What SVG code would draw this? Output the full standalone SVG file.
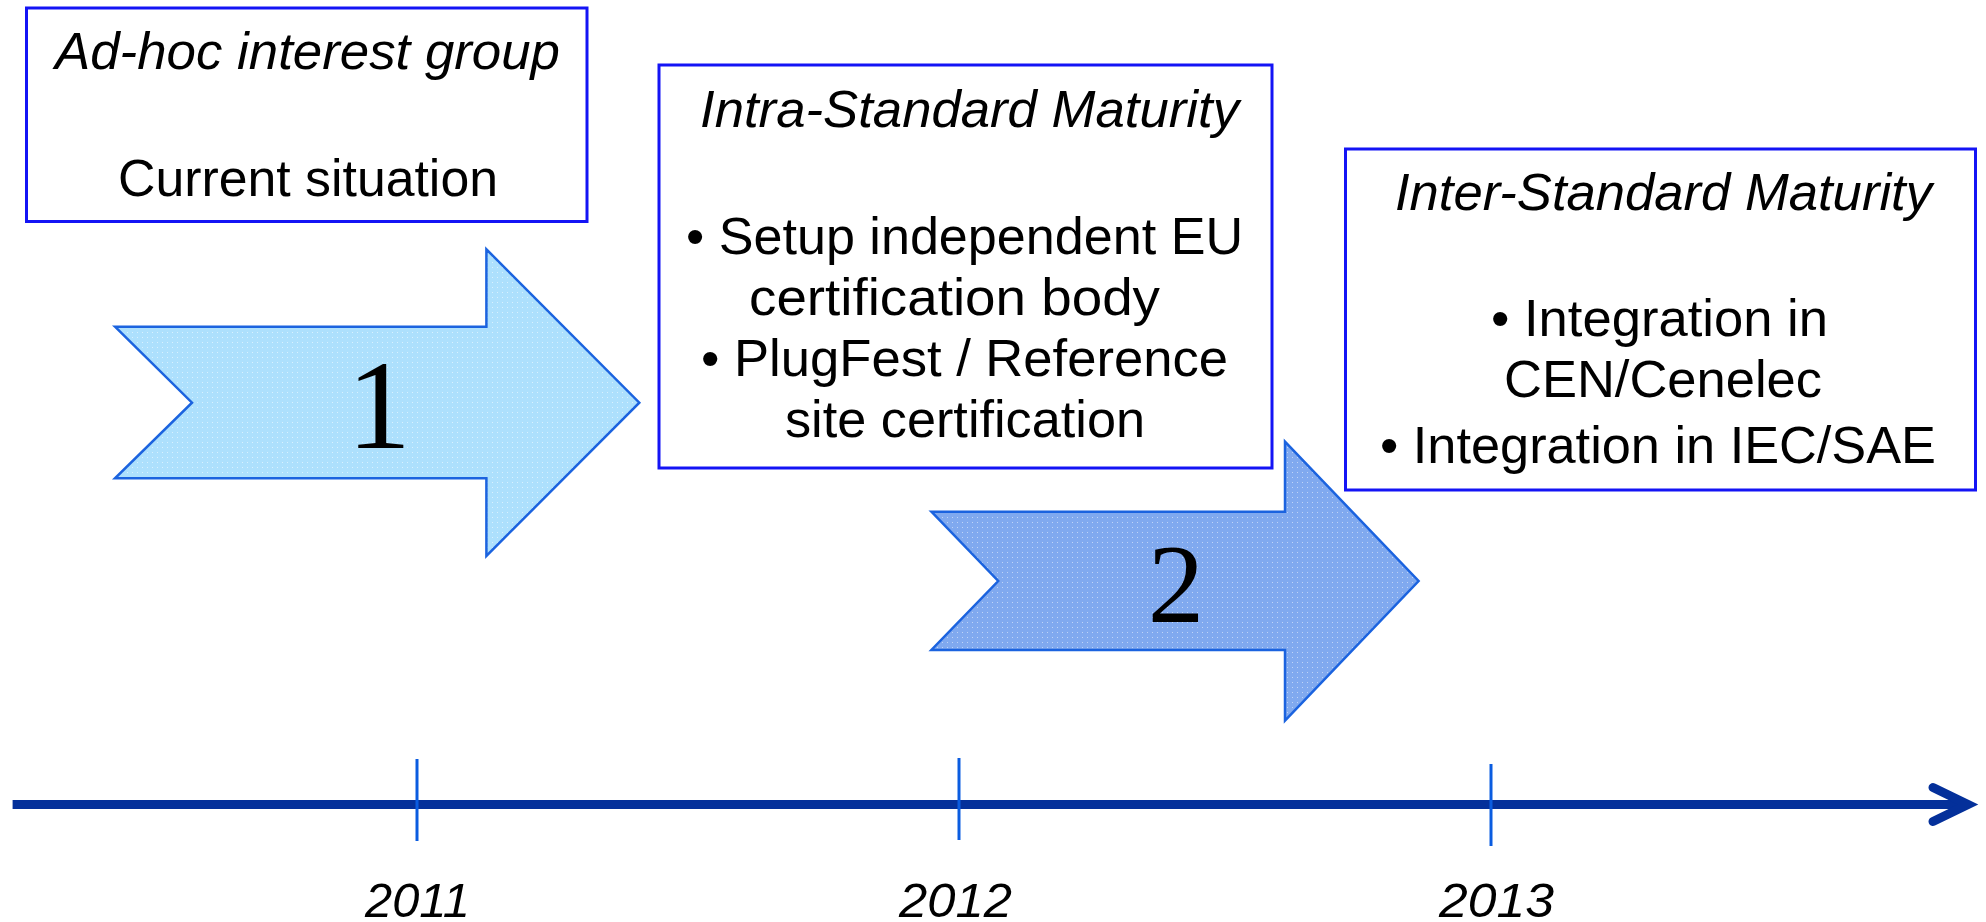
<svg xmlns="http://www.w3.org/2000/svg" width="1986" height="922" viewBox="0 0 1986 922">
  <style>
    .box { fill: #ffffff; stroke: #1414f5; stroke-width: 3; }
    .txt { font-family: "Liberation Sans", Arial, sans-serif; font-size: 52px; fill: #000000; }
    .it { font-style: italic; }
    .num { font-family: "Liberation Serif", "DejaVu Serif", serif; fill: #000000; text-anchor: middle; }
    .year { font-family: "Liberation Sans", Arial, sans-serif; font-style: italic; font-size: 49px; fill: #000000; }
    .shape { stroke: #1b63df; stroke-width: 2.5; stroke-linejoin: miter; }
    .tick { stroke: #0a5ce0; stroke-width: 3; }
    .axis { stroke: #04309a; stroke-width: 9; fill: none; }
  </style>
  <defs>
    <pattern id="dots1" width="5" height="5" patternUnits="userSpaceOnUse">
      <rect width="5" height="5" fill="#ade0fd"/>
      <rect x="2" y="2" width="1" height="1" fill="#ffffff" opacity="0.55"/>
    </pattern>
    <pattern id="dots2" width="5" height="5" patternUnits="userSpaceOnUse">
      <rect width="5" height="5" fill="#80a9ef"/>
      <rect x="2" y="2" width="1" height="1" fill="#ffffff" opacity="0.5"/>
    </pattern>
  </defs>
  <rect width="1986" height="922" fill="#ffffff"/>

  <g id="box-adhoc">
    <rect class="box" x="26.5" y="8" width="560.5" height="213.5"/>
    <text class="txt it" x="55" y="69" textLength="505" lengthAdjust="spacingAndGlyphs">Ad-hoc interest group</text>
    <text class="txt" x="118" y="195.5" textLength="380" lengthAdjust="spacingAndGlyphs">Current situation</text>
  </g>

  <g id="box-intra">
    <rect class="box" x="659" y="65" width="613" height="403"/>
    <text class="txt it" x="700" y="127" textLength="539" lengthAdjust="spacingAndGlyphs">Intra-Standard Maturity</text>
    <text class="txt" x="686" y="254" textLength="557" lengthAdjust="spacingAndGlyphs">• Setup independent EU</text>
    <text class="txt" x="749" y="315" textLength="411" lengthAdjust="spacingAndGlyphs">certification body</text>
    <text class="txt" x="701" y="376" textLength="527" lengthAdjust="spacingAndGlyphs">• PlugFest / Reference</text>
    <text class="txt" x="785" y="437" textLength="360" lengthAdjust="spacingAndGlyphs">site certification</text>
  </g>

  <g id="box-inter">
    <rect class="box" x="1345.5" y="149" width="630" height="341"/>
    <text class="txt it" x="1395" y="210" textLength="537" lengthAdjust="spacingAndGlyphs">Inter-Standard Maturity</text>
    <text class="txt" x="1491" y="336" textLength="337" lengthAdjust="spacingAndGlyphs">• Integration in</text>
    <text class="txt" x="1504" y="397" textLength="318" lengthAdjust="spacingAndGlyphs">CEN/Cenelec</text>
    <text class="txt" x="1380" y="463" textLength="556" lengthAdjust="spacingAndGlyphs">• Integration in IEC/SAE</text>
  </g>

  <g id="arrow-1">
    <polygon class="shape" fill="url(#dots1)" points="115,326.7 192,402.7 115,478.3 486.4,478.3 486.4,556 639.3,402.7 486.4,249.3 486.4,326.7"/>
    <text class="num" x="379" y="448" font-size="128">1</text>
  </g>

  <g id="arrow-2">
    <polygon class="shape" fill="url(#dots2)" points="931.4,511.7 998.2,581 931.4,650 1285,650 1285,720.7 1418.6,581 1285,441.7 1285,511.7"/>
    <text class="num" x="1176" y="621.5" font-size="113">2</text>
  </g>

  <g id="timeline">
    <line class="axis" x1="12.6" y1="804.5" x2="1964" y2="804.5"/>
    <polyline class="axis" points="1933,787.5 1968,804.5 1933,821.5" stroke-linecap="round" stroke-linejoin="miter"/>
    <line class="tick" x1="417" y1="759" x2="417" y2="841"/>
    <line class="tick" x1="959" y1="758" x2="959" y2="840"/>
    <line class="tick" x1="1491" y1="764" x2="1491" y2="846"/>
    <text class="year" x="365" y="917" textLength="105" lengthAdjust="spacingAndGlyphs">2011</text>
    <text class="year" x="899" y="917" textLength="113" lengthAdjust="spacingAndGlyphs">2012</text>
    <text class="year" x="1439" y="917" textLength="115" lengthAdjust="spacingAndGlyphs">2013</text>
  </g>
</svg>
